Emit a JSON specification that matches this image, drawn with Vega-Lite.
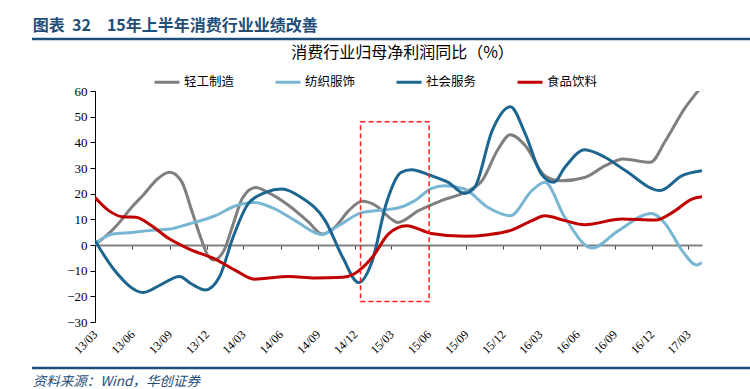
{
  "$schema": "https://vega.github.io/schema/vega-lite/v6.json",
  "padding": {"left": 30, "top": 17, "right": 0, "bottom": 0},
  "background": "white",
  "config": {"view": {"stroke": null}, "font": "Noto Sans CJK SC"},
  "bounds": "flush",
  "center": true,
  "spacing": 46,
  "datasets": {
    "series": [
      {"series": "轻工制造", "date": "2013-03-01", "value": 0},
      {"series": "轻工制造", "date": "2013-04-20", "value": 7},
      {"series": "轻工制造", "date": "2013-06-01", "value": 15},
      {"series": "轻工制造", "date": "2013-06-28", "value": 19.5},
      {"series": "轻工制造", "date": "2013-08-04", "value": 26},
      {"series": "轻工制造", "date": "2013-09-01", "value": 28.3},
      {"series": "轻工制造", "date": "2013-10-01", "value": 24.5},
      {"series": "轻工制造", "date": "2013-10-25", "value": 13.5},
      {"series": "轻工制造", "date": "2013-11-16", "value": 3},
      {"series": "轻工制造", "date": "2013-12-07", "value": -4.8},
      {"series": "轻工制造", "date": "2013-12-19", "value": -5.8},
      {"series": "轻工制造", "date": "2014-01-13", "value": -2},
      {"series": "轻工制造", "date": "2014-02-04", "value": 8},
      {"series": "轻工制造", "date": "2014-02-28", "value": 18.5},
      {"series": "轻工制造", "date": "2014-04-01", "value": 22.4},
      {"series": "轻工制造", "date": "2014-05-01", "value": 20.5},
      {"series": "轻工制造", "date": "2014-06-22", "value": 15.3},
      {"series": "轻工制造", "date": "2014-08-10", "value": 8.8},
      {"series": "轻工制造", "date": "2014-09-11", "value": 4.3},
      {"series": "轻工制造", "date": "2014-10-13", "value": 7},
      {"series": "轻工制造", "date": "2014-11-16", "value": 13.4},
      {"series": "轻工制造", "date": "2014-12-19", "value": 17},
      {"series": "轻工制造", "date": "2015-01-22", "value": 15.3},
      {"series": "轻工制造", "date": "2015-03-01", "value": 10.1},
      {"series": "轻工制造", "date": "2015-03-17", "value": 8.8},
      {"series": "轻工制造", "date": "2015-05-07", "value": 13.4},
      {"series": "轻工制造", "date": "2015-07-02", "value": 17.3},
      {"series": "轻工制造", "date": "2015-09-07", "value": 21.2},
      {"series": "轻工制造", "date": "2015-10-10", "value": 25},
      {"series": "轻工制造", "date": "2015-11-19", "value": 37.4},
      {"series": "轻工制造", "date": "2015-12-19", "value": 43},
      {"series": "轻工制造", "date": "2016-01-25", "value": 38.7},
      {"series": "轻工制造", "date": "2016-03-13", "value": 27},
      {"series": "轻工制造", "date": "2016-04-23", "value": 25},
      {"series": "轻工制造", "date": "2016-06-19", "value": 26.3},
      {"series": "轻工制造", "date": "2016-08-09", "value": 30.9},
      {"series": "轻工制造", "date": "2016-09-22", "value": 33.5},
      {"series": "轻工制造", "date": "2016-11-28", "value": 32.2},
      {"series": "轻工制造", "date": "2017-01-04", "value": 40.6},
      {"series": "轻工制造", "date": "2017-02-22", "value": 53.6},
      {"series": "轻工制造", "date": "2017-03-25", "value": 60},
      {"series": "轻工制造", "date": "2017-04-04", "value": 62},

      {"series": "纺织服饰", "date": "2013-03-01", "value": 0.5},
      {"series": "纺织服饰", "date": "2013-04-13", "value": 4.3},
      {"series": "纺织服饰", "date": "2013-06-01", "value": 4.9},
      {"series": "纺织服饰", "date": "2013-07-12", "value": 5.6},
      {"series": "纺织服饰", "date": "2013-09-01", "value": 6.2},
      {"series": "纺织服饰", "date": "2013-10-19", "value": 8.2},
      {"series": "纺织服饰", "date": "2013-12-22", "value": 11.4},
      {"series": "纺织服饰", "date": "2014-02-11", "value": 15.3},
      {"series": "纺织服饰", "date": "2014-03-29", "value": 16.6},
      {"series": "纺织服饰", "date": "2014-05-19", "value": 14},
      {"series": "纺织服饰", "date": "2014-07-07", "value": 9.5},
      {"series": "纺织服饰", "date": "2014-09-11", "value": 4},
      {"series": "纺织服饰", "date": "2014-10-22", "value": 7.5},
      {"series": "纺织服饰", "date": "2014-12-16", "value": 12.5},
      {"series": "纺织服饰", "date": "2015-02-07", "value": 13.6},
      {"series": "纺织服饰", "date": "2015-03-17", "value": 14.4},
      {"series": "纺织服饰", "date": "2015-04-28", "value": 17.3},
      {"series": "纺织服饰", "date": "2015-06-07", "value": 22},
      {"series": "纺织服饰", "date": "2015-07-10", "value": 23.1},
      {"series": "纺织服饰", "date": "2015-08-28", "value": 21.8},
      {"series": "纺织服饰", "date": "2015-10-25", "value": 14.6},
      {"series": "纺织服饰", "date": "2015-12-19", "value": 11.4},
      {"series": "纺织服饰", "date": "2016-02-10", "value": 21.2},
      {"series": "纺织服饰", "date": "2016-03-13", "value": 24.4},
      {"series": "纺织服饰", "date": "2016-05-01", "value": 10.8},
      {"series": "纺织服饰", "date": "2016-07-07", "value": -1.2},
      {"series": "纺织服饰", "date": "2016-09-10", "value": 5.6},
      {"series": "纺织服饰", "date": "2016-12-01", "value": 12.3},
      {"series": "纺织服饰", "date": "2017-01-04", "value": 8.2},
      {"series": "纺织服饰", "date": "2017-02-14", "value": -2.2},
      {"series": "纺织服饰", "date": "2017-03-22", "value": -7.8},
      {"series": "纺织服饰", "date": "2017-04-04", "value": -6.8},

      {"series": "社会服务", "date": "2013-03-01", "value": 1.7},
      {"series": "社会服务", "date": "2013-04-19", "value": -10},
      {"series": "社会服务", "date": "2013-06-28", "value": -18.5},
      {"series": "社会服务", "date": "2013-08-13", "value": -15.2},
      {"series": "社会服务", "date": "2013-09-25", "value": -12.3},
      {"series": "社会服务", "date": "2013-10-25", "value": -15.2},
      {"series": "社会服务", "date": "2013-11-28", "value": -17.5},
      {"series": "社会服务", "date": "2014-01-01", "value": -12.6},
      {"series": "社会服务", "date": "2014-02-04", "value": 3},
      {"series": "社会服务", "date": "2014-03-13", "value": 16},
      {"series": "社会服务", "date": "2014-04-25", "value": 20.5},
      {"series": "社会服务", "date": "2014-06-04", "value": 21.8},
      {"series": "社会服务", "date": "2014-07-22", "value": 18.5},
      {"series": "社会服务", "date": "2014-09-19", "value": 9.5},
      {"series": "社会服务", "date": "2014-11-01", "value": -4.8},
      {"series": "社会服务", "date": "2014-12-10", "value": -14.6},
      {"series": "社会服务", "date": "2015-01-13", "value": -6.1},
      {"series": "社会服务", "date": "2015-02-16", "value": 16},
      {"series": "社会服务", "date": "2015-03-25", "value": 28.3},
      {"series": "社会服务", "date": "2015-04-19", "value": 29.3},
      {"series": "社会服务", "date": "2015-06-07", "value": 27},
      {"series": "社会服务", "date": "2015-07-19", "value": 24.4},
      {"series": "社会服务", "date": "2015-08-28", "value": 20.1},
      {"series": "社会服务", "date": "2015-09-22", "value": 22.4},
      {"series": "社会服务", "date": "2015-11-04", "value": 44.5},
      {"series": "社会服务", "date": "2015-12-19", "value": 53.9},
      {"series": "社会服务", "date": "2016-01-25", "value": 43.2},
      {"series": "社会服务", "date": "2016-03-04", "value": 27.7},
      {"series": "社会服务", "date": "2016-04-04", "value": 24.4},
      {"series": "社会服务", "date": "2016-05-01", "value": 30.2},
      {"series": "社会服务", "date": "2016-06-19", "value": 37.1},
      {"series": "社会服务", "date": "2016-08-09", "value": 34.1},
      {"series": "社会服务", "date": "2016-09-28", "value": 28.9},
      {"series": "社会服务", "date": "2016-12-22", "value": 21.2},
      {"series": "社会服务", "date": "2017-02-14", "value": 27},
      {"series": "社会服务", "date": "2017-04-04", "value": 28.9},

      {"series": "食品饮料", "date": "2013-03-01", "value": 18.5},
      {"series": "食品饮料", "date": "2013-04-04", "value": 13.4},
      {"series": "食品饮料", "date": "2013-05-07", "value": 11},
      {"series": "食品饮料", "date": "2013-06-10", "value": 10.8},
      {"series": "食品饮料", "date": "2013-07-12", "value": 8.2},
      {"series": "食品饮料", "date": "2013-09-01", "value": 2.3},
      {"series": "食品饮料", "date": "2013-10-19", "value": -1.6},
      {"series": "食品饮料", "date": "2013-12-22", "value": -5.5},
      {"series": "食品饮料", "date": "2014-02-11", "value": -10},
      {"series": "食品饮料", "date": "2014-03-28", "value": -13.3},
      {"series": "食品饮料", "date": "2014-06-22", "value": -12.3},
      {"series": "食品饮料", "date": "2014-08-25", "value": -12.9},
      {"series": "食品饮料", "date": "2014-11-01", "value": -12.6},
      {"series": "食品饮料", "date": "2014-12-01", "value": -11.1},
      {"series": "食品饮料", "date": "2015-01-13", "value": -4.8},
      {"series": "食品饮料", "date": "2015-02-22", "value": 4.3},
      {"series": "食品饮料", "date": "2015-04-07", "value": 7.5},
      {"series": "食品饮料", "date": "2015-06-07", "value": 4.5},
      {"series": "食品饮料", "date": "2015-08-28", "value": 3.4},
      {"series": "食品饮料", "date": "2015-10-25", "value": 4},
      {"series": "食品饮料", "date": "2015-12-22", "value": 5.8},
      {"series": "食品饮料", "date": "2016-02-10", "value": 9.5},
      {"series": "食品饮料", "date": "2016-03-13", "value": 11.4},
      {"series": "食品饮料", "date": "2016-05-01", "value": 9.5},
      {"series": "食品饮料", "date": "2016-06-19", "value": 7.9},
      {"series": "食品饮料", "date": "2016-09-19", "value": 10.1},
      {"series": "食品饮料", "date": "2016-12-10", "value": 9.7},
      {"series": "食品饮料", "date": "2017-01-28", "value": 13.4},
      {"series": "食品饮料", "date": "2017-03-10", "value": 17.9},
      {"series": "食品饮料", "date": "2017-04-04", "value": 18.8}
    ],
    "box": [
      {"start": "2014-12-15", "end": "2015-06-02", "top": 48, "bottom": -22}
    ]
  },
  "vconcat": [
    {
      "width": 733,
      "height": 6,
      "title": {"text": "图表\u00a0\u00a032\u300015年上半年消费行业业绩改善", "anchor": "start", "dx": 2, "fontSize": 16, "fontWeight": "bold", "color": "#1F4E79", "offset": 4, "font": "Noto Sans CJK SC"},
      "data": {"values": [{"from": 0, "to": 1, "level": 1}]},
      "mark": {"type": "rule", "color": "#1F4E79", "strokeWidth": 2.5},
      "encoding": {
        "x": {"field": "from", "type": "quantitative", "scale": {"domain": [0, 1]}, "axis": null},
        "x2": {"field": "to"},
        "y": {"field": "level", "type": "quantitative", "scale": {"domain": [0, 1]}, "axis": null}
      }
    },
    {
      "width": 607,
      "height": 231,
      "title": {"text": "消费行业归母净利润同比（%）", "anchor": "middle", "frame": "group", "dx": 4, "fontSize": 16, "fontWeight": "normal", "color": "#000000", "offset": 24, "font": "Noto Sans CJK SC"},
      "resolve": {"scale": {"x": "independent"}, "axis": {"x": "independent"}},
      "layer": [
        {
          "data": {"name": "series"},
          "mark": {"type": "line", "interpolate": "monotone", "strokeWidth": 3, "clip": true},
          "encoding": {
            "x": {
              "field": "date", "type": "temporal",
              "scale": {"type": "utc", "domain": [{"year": 2013, "month": 3, "date": 1, "utc": true}, {"year": 2017, "month": 4, "date": 4, "utc": true}]},
              "axis": {
                "orient": "bottom", "title": null, "grid": false, "domain": false, "ticks": false,
                "values": [
                  {"year": 2013, "month": 3, "date": 1, "utc": true}, {"year": 2013, "month": 6, "date": 1, "utc": true}, {"year": 2013, "month": 9, "date": 1, "utc": true}, {"year": 2013, "month": 12, "date": 1, "utc": true},
                  {"year": 2014, "month": 3, "date": 1, "utc": true}, {"year": 2014, "month": 6, "date": 1, "utc": true}, {"year": 2014, "month": 9, "date": 1, "utc": true}, {"year": 2014, "month": 12, "date": 1, "utc": true},
                  {"year": 2015, "month": 3, "date": 1, "utc": true}, {"year": 2015, "month": 6, "date": 1, "utc": true}, {"year": 2015, "month": 9, "date": 1, "utc": true}, {"year": 2015, "month": 12, "date": 1, "utc": true},
                  {"year": 2016, "month": 3, "date": 1, "utc": true}, {"year": 2016, "month": 6, "date": 1, "utc": true}, {"year": 2016, "month": 9, "date": 1, "utc": true}, {"year": 2016, "month": 12, "date": 1, "utc": true},
                  {"year": 2017, "month": 3, "date": 1, "utc": true}
                ],
                "labelExpr": "utcFormat(datum.value, '%y/%m')",
                "labelAngle": -45, "labelAlign": "right", "labelBaseline": "middle",
                "labelFont": "Liberation Serif", "labelFontSize": 12, "labelColor": "#000000",
                "labelPadding": 10, "labelOverlap": false, "labelFlush": false
              }
            },
            "y": {
              "field": "value", "type": "quantitative",
              "scale": {"domain": [-30, 60], "nice": false, "zero": false},
              "axis": {
                "title": null, "grid": false, "values": [-30, -20, -10, 0, 10, 20, 30, 40, 50, 60], "tickCount": 10,
                "labelFont": "Liberation Serif", "labelFontSize": 13, "labelColor": "#000000",
                "labelOverlap": false, "labelFlush": false, "labelBound": false,
                "domainColor": "#000000", "domainWidth": 1, "tickColor": "#000000", "tickSize": 5, "tickWidth": 1, "labelPadding": 3
              }
            },
            "color": {
              "field": "series", "type": "nominal",
              "scale": {"domain": ["轻工制造", "纺织服饰", "社会服务", "食品饮料"], "range": ["#7F7F7F", "#79B6D3", "#1D6690", "#C00000"]},
              "legend": {
                "orient": "none", "legendX": 121, "legendY": 29, "direction": "horizontal", "title": null,
                "symbolType": "stroke", "symbolSize": 625, "symbolStrokeWidth": 3,
                "labelFont": "Noto Sans CJK SC", "labelFontSize": 12.5, "labelColor": "#000000",
                "labelOffset": 3, "columnPadding": 34
              }
            }
          }
        },
        {
          "data": {"name": "box"},
          "mark": {"type": "rect", "fill": "transparent", "stroke": "#FF2020", "strokeWidth": 1.5, "strokeDash": [5, 3]},
          "encoding": {
            "x": {
              "field": "start", "type": "temporal",
              "scale": {"type": "utc", "domain": [{"year": 2013, "month": 3, "date": 1, "utc": true}, {"year": 2017, "month": 4, "date": 4, "utc": true}]},
              "axis": {
                "orient": "bottom", "offset": -77, "title": null, "grid": false, "labels": false,
                "values": [
                  {"year": 2013, "month": 3, "date": 1, "utc": true}, {"year": 2013, "month": 6, "date": 1, "utc": true}, {"year": 2013, "month": 9, "date": 1, "utc": true}, {"year": 2013, "month": 12, "date": 1, "utc": true},
                  {"year": 2014, "month": 3, "date": 1, "utc": true}, {"year": 2014, "month": 6, "date": 1, "utc": true}, {"year": 2014, "month": 9, "date": 1, "utc": true}, {"year": 2014, "month": 12, "date": 1, "utc": true},
                  {"year": 2015, "month": 3, "date": 1, "utc": true}, {"year": 2015, "month": 6, "date": 1, "utc": true}, {"year": 2015, "month": 9, "date": 1, "utc": true}, {"year": 2015, "month": 12, "date": 1, "utc": true},
                  {"year": 2016, "month": 3, "date": 1, "utc": true}, {"year": 2016, "month": 6, "date": 1, "utc": true}, {"year": 2016, "month": 9, "date": 1, "utc": true}, {"year": 2016, "month": 12, "date": 1, "utc": true},
                  {"year": 2017, "month": 3, "date": 1, "utc": true}
                ],
                "domainColor": "#808080", "domainWidth": 2, "tickColor": "#404040", "tickSize": 4, "tickWidth": 1
              }
            },
            "x2": {"field": "end"},
            "y": {
              "field": "top", "type": "quantitative",
              "axis": {
                "title": null, "grid": false, "values": [-30, -20, -10, 0, 10, 20, 30, 40, 50, 60], "tickCount": 10,
                "labelFont": "Liberation Serif", "labelFontSize": 13, "labelColor": "#000000",
                "labelOverlap": false, "labelFlush": false, "labelBound": false,
                "domainColor": "#000000", "domainWidth": 1, "tickColor": "#000000", "tickSize": 5, "tickWidth": 1, "labelPadding": 3
              }
            },
            "y2": {"field": "bottom"}
          }
        }
      ]
    },
    {
      "width": 733,
      "height": 1,
      "title": {"text": "资料来源：Wind，华创证券", "orient": "bottom", "anchor": "start", "dx": 2, "fontSize": 13.5, "fontStyle": "italic", "fontWeight": "normal", "color": "#1F4E79", "offset": 6, "font": "Noto Sans CJK SC"},
      "data": {"values": [{"from": 0, "to": 1, "level": 1}]},
      "mark": {"type": "rule", "color": "#1F4E79", "strokeWidth": 2.5},
      "encoding": {
        "x": {"field": "from", "type": "quantitative", "scale": {"domain": [0, 1]}, "axis": null},
        "x2": {"field": "to"},
        "y": {"field": "level", "type": "quantitative", "scale": {"domain": [0, 1]}, "axis": null}
      }
    }
  ]
}
